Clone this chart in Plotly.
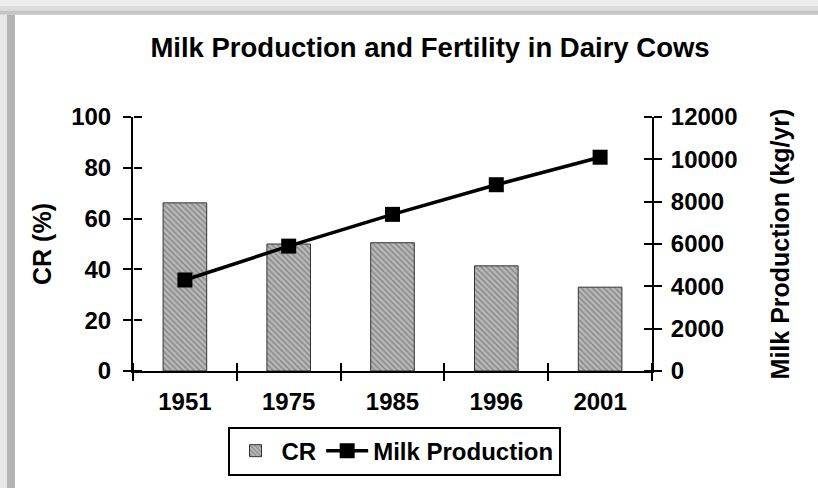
import plotly.graph_objects as go

years = ["1951", "1975", "1985", "1996", "2001"]
cr_pct = [66.2, 50.0, 50.5, 41.4, 33.0]
milk_kg = [4300, 5900, 7400, 8800, 10100]
left_ticks = [0, 20, 40, 60, 80, 100]
right_ticks = [0, 2000, 4000, 6000, 8000, 10000, 12000]

W, H = 818, 488
L, R, T, B = 133, 652, 117, 373
PW, PH = R - L, B - T

def px(x):
    return (x - L) / PW

def py(y):
    return (B - y) / PH

FONT = "Liberation Sans, Arial, sans-serif"
tickfont = dict(family=FONT, size=24, color="black", weight="bold")

fig = go.Figure()
fig.add_trace(go.Bar(
    x=years, y=cr_pct, name="CR", width=0.42,
    marker=dict(color="#b0b0b0",
                line=dict(color="#333333", width=1),
                pattern=dict(shape="\\", fgcolor="#505050", bgcolor="#b8b8b8",
                             size=4, solidity=0.35)),
    xaxis="x", yaxis="y",
))
fig.add_trace(go.Scatter(
    x=years, y=milk_kg, name="Milk Production", mode="lines+markers",
    line=dict(color="black", width=3.5),
    marker=dict(symbol="square", size=15, color="black"),
    xaxis="x2", yaxis="y2",
))
# helper traces carrying the inner half of the crossing ticks
fig.add_trace(go.Scatter(x=years, y=[None]*len(years), showlegend=False,
                         hoverinfo="skip", xaxis="x3", yaxis="y3"))
fig.add_trace(go.Scatter(x=years, y=[None]*len(years), showlegend=False,
                         hoverinfo="skip", xaxis="x3", yaxis="y4"))

axcommon = dict(showgrid=False, zeroline=False, linecolor="black", linewidth=2,
                tickcolor="black", tickwidth=2, ticklen=8)

titlefont = dict(family=FONT, size=25, color="black", weight="bold")

fig.update_layout(
    width=W, height=H,
    margin=dict(l=L, r=W - R, t=T, b=H - B),
    paper_bgcolor="white", plot_bgcolor="white",
    showlegend=True,
    xaxis=dict(type="category", range=[-0.5, 4.5], tickson="boundaries",
               ticks="outside", showline=True, tickfont=tickfont,
               ticklabelstandoff=8, **axcommon),
    xaxis2=dict(type="category", range=[-0.5, 4.5], tickson="boundaries",
                overlaying="x", showline=False, showticklabels=False,
                ticks="outside", side="bottom", **axcommon),
    # inner tick halves: axes placed on the opposite side so their outside ticks point inward
    xaxis3=dict(type="category", range=[-0.5, 4.5], tickson="boundaries",
                overlaying="x", side="top", anchor="free", position=0,
                ticks="outside", showline=False, showticklabels=False, **axcommon),
    yaxis=dict(range=[0, 100], tickvals=left_ticks, ticks="outside", showline=True,
               tickfont=tickfont, ticklabelstandoff=7,
               title=dict(text="CR (%)", font=titlefont, standoff=12),
               **axcommon),
    yaxis3=dict(range=[0, 100], tickvals=left_ticks, ticks="outside", overlaying="y",
                side="right", anchor="free", position=0,
                showline=False, showticklabels=False, **axcommon),
    yaxis2=dict(range=[0, 12000], tickvals=right_ticks, tickformat="d",
                ticks="outside", showline=True, ticklabelstandoff=4,
                overlaying="y", side="right", tickfont=tickfont,
                title=dict(text="Milk Production (kg/yr)", font=titlefont, standoff=35),
                **axcommon),
    yaxis4=dict(range=[0, 12000], tickvals=right_ticks, ticks="outside", overlaying="y",
                side="left", anchor="free", position=1,
                showline=False, showticklabels=False, **axcommon),
    title=dict(text="Milk Production and Fertility in Dairy Cows",
               font=dict(family=FONT, size=27.5, color="black", weight="bold"),
               x=430 / W, xanchor="center", xref="container",
               y=1 - 47 / H, yanchor="middle", yref="container"),
    legend=dict(orientation="h", x=px(394), xanchor="center", y=py(429), yanchor="top",
                bordercolor="black", borderwidth=2, bgcolor="white",
                font=dict(family=FONT, size=24, color="black", weight="bold"),
                itemwidth=42, tracegroupgap=0),
    font=dict(family=FONT, color="black"),
)

# frame decoration (shadow at top and left)
fig.add_shape(type="rect", xref="paper", yref="paper",
              x0=px(-5), x1=px(W + 5), y0=py(14), y1=py(-5),
              fillcolor="#c4c4c4", line_width=0, layer="below")
fig.add_shape(type="rect", xref="paper", yref="paper",
              x0=px(-5), x1=px(W + 5), y0=py(10), y1=py(-5),
              fillcolor="#dcdcdc", line_width=0, layer="below")
fig.add_shape(type="rect", xref="paper", yref="paper",
              x0=px(-5), x1=px(W + 5), y0=py(5), y1=py(-5),
              fillcolor="#ededed", line_width=0, layer="below")
fig.add_shape(type="rect", xref="paper", yref="paper",
              x0=px(7), x1=px(15), y0=py(H + 5), y1=py(14),
              fillcolor="#b4b4b4", line_width=0, layer="below")
fig.add_shape(type="rect", xref="paper", yref="paper",
              x0=px(-5), x1=px(7), y0=py(H + 5), y1=py(14),
              fillcolor="#e8e8e8", line_width=0, layer="below")

fig.write_html("out.html", config={"displayModeBar": False},
               post_script="document.body.style.margin='0';document.body.style.overflow='hidden';")
